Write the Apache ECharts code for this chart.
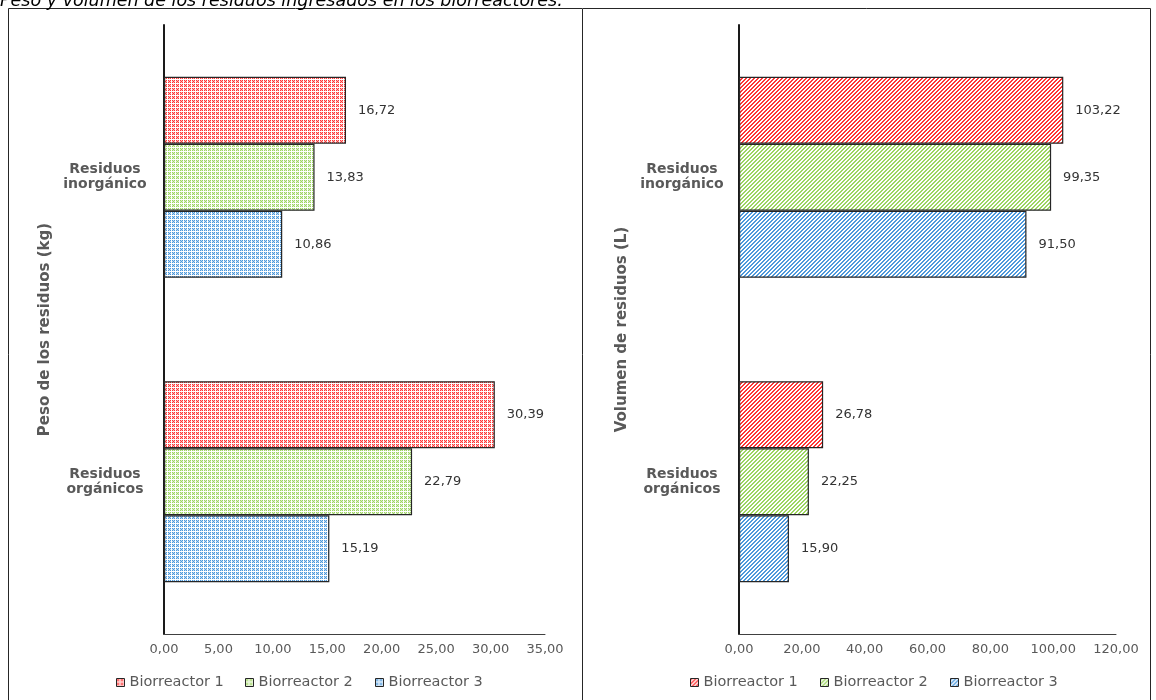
<!DOCTYPE html>
<html>
<head>
<meta charset="utf-8">
<script src="https://cdn.jsdelivr.net/npm/echarts@6/dist/echarts.min.js"></script>
<style>
  html, body { margin: 0; padding: 0; background: #fff; width: 1156px; height: 700px; overflow: hidden; }
  #peso { position: absolute; left: 0; top: 0; width: 583px; height: 700px; }
  #volumen { position: absolute; left: 583px; top: 0; width: 573px; height: 700px; }
</style>
</head>
<body>
<div id="peso"></div>
<div id="volumen"></div>
<script>
// Residue categories (top to bottom) and reactor names
const categories = ['Residuos\ninorgánico', 'Residuos\norgánicos'];
const reactorNames = ['Biorreactor 1', 'Biorreactor 2', 'Biorreactor 3'];

// Weight of residues (kg) per reactor: [inorgánico, orgánicos]
const pesoBio1 = [16.72, 30.39];
const pesoBio2 = [13.83, 22.79];
const pesoBio3 = [10.86, 15.19];

// Volume of residues (L) per reactor: [inorgánico, orgánicos]
const volBio1 = [103.22, 26.78];
const volBio2 = [99.35, 22.25];
const volBio3 = [91.50, 15.90];

// Value axis ranges
const pesoAxis = { min: 0, max: 35, interval: 5 };
const volAxis = { min: 0, max: 120, interval: 20 };

const titleText = 'Peso y volumen de los residuos ingresados en los biorreactores.';
const reactorColors = ['#ff2020', '#92d050', '#3a8ed8'];

const FONT = 'DejaVu Sans';
const comma = v => Number(v).toFixed(2).replace('.', ',');

// Small repeating fill tiles: a dotted grid and upward diagonal hatching
function makeTile(color, kind) {
  const c = document.createElement('canvas');
  c.width = 4; c.height = 4;
  const ctx = c.getContext('2d');
  ctx.fillStyle = '#ffffff';
  ctx.fillRect(0, 0, 4, 4);
  for (let y = 0; y < 4; y++) {
    for (let x = 0; x < 4; x++) {
      let a = 0;
      if (kind === 'grid') {
        if (x < 3 && y < 3) a = ((x + y) % 2 === 0) ? 0.9 : 0.35;
      } else {
        if ((x + y) % 4 < 2) a = 0.9;
      }
      if (a > 0) {
        ctx.globalAlpha = a;
        ctx.fillStyle = color;
        ctx.fillRect(x, y, 1, 1);
      }
    }
  }
  ctx.globalAlpha = 1;
  return { image: c, repeat: 'repeat' };
}

function buildOption(cfg) {
  const seriesData = cfg.values;
  const series = reactorNames.map((name, i) => ({
    name: name,
    type: 'bar',
    data: seriesData[i],
    barGap: '0%',
    barCategoryGap: '34%',
    itemStyle: {
      color: makeTile(reactorColors[i], cfg.fill),
      borderColor: '#262626',
      borderWidth: 1.2
    },
    label: {
      show: true,
      position: 'right',
      distance: 12,
      formatter: p => comma(p.value),
      color: '#333333',
      fontFamily: FONT,
      fontSize: 13
    },
    emphasis: { disabled: true }
  }));

  const legends = reactorNames.map((name, i) => ({
    data: [name],
    left: cfg.legendLeft[i],
    top: 675,
    padding: 0,
    icon: 'rect',
    itemWidth: 8,
    itemHeight: 8,
    itemStyle: { borderColor: '#262626', borderWidth: 1 },
    textStyle: { color: '#595959', fontFamily: FONT, fontSize: 14.5 },
    selectedMode: false
  }));

  return {
    animation: false,
    backgroundColor: '#ffffff',
    textStyle: { fontFamily: FONT },
    grid: { left: cfg.gridLeft, top: 25, width: cfg.gridWidth, height: 609, containLabel: false },
    xAxis: {
      type: 'value',
      min: cfg.axis.min,
      max: cfg.axis.max,
      interval: cfg.axis.interval,
      axisLine: { show: true, lineStyle: { color: '#404040', width: 1 } },
      axisTick: { show: false },
      splitLine: { show: false },
      axisLabel: {
        formatter: v => comma(v),
        color: '#595959',
        fontFamily: FONT,
        fontSize: 13,
        margin: 9
      }
    },
    yAxis: {
      type: 'category',
      data: categories,
      inverse: true,
      name: cfg.axisName,
      nameLocation: 'middle',
      nameGap: 109,
      nameRotate: 90,
      nameTextStyle: { color: '#595959', fontFamily: FONT, fontSize: 15, fontWeight: 'bold' },
      axisLine: { show: true, lineStyle: { color: '#1a1a1a', width: 2 } },
      axisTick: { show: false },
      axisLabel: {
        align: 'center',
        margin: cfg.catMargin,
        color: '#595959',
        fontFamily: FONT,
        fontSize: 14,
        fontWeight: 'bold',
        lineHeight: 15
      }
    },
    legend: legends,
    graphic: cfg.graphic,
    series: series
  };
}

const pesoChart = echarts.init(document.getElementById('peso'), null, { renderer: 'canvas' });
pesoChart.setOption(buildOption({
  values: [pesoBio1, pesoBio2, pesoBio3],
  fill: 'grid',
  axis: pesoAxis,
  axisName: 'Peso de los residuos (kg)',
  gridLeft: 164,
  gridWidth: 381,
  catMargin: 59,
  legendLeft: [116, 245, 375],
  graphic: [
    {
      type: 'rect',
      shape: { x: 8.5, y: 8.5, width: 574, height: 760 },
      style: { fill: 'none', stroke: '#262626', lineWidth: 1 },
      silent: true
    },
    {
      type: 'text',
      x: 0,
      y: 10,
      style: {
        text: titleText,
        font: 'italic 17.5px "DejaVu Sans"',
        fill: '#000000',
        textVerticalAlign: 'bottom'
      },
      silent: true
    }
  ]
}));

const volChart = echarts.init(document.getElementById('volumen'), null, { renderer: 'canvas' });
volChart.setOption(buildOption({
  values: [volBio1, volBio2, volBio3],
  fill: 'hatch',
  axis: volAxis,
  axisName: 'Volumen de residuos (L)',
  gridLeft: 156,
  gridWidth: 377,
  catMargin: 57,
  legendLeft: [107, 237, 367],
  graphic: [
    {
      type: 'rect',
      shape: { x: -10, y: 8.5, width: 577.5, height: 760 },
      style: { fill: 'none', stroke: '#262626', lineWidth: 1 },
      silent: true
    }
  ]
}));
</script>
</body>
</html>
